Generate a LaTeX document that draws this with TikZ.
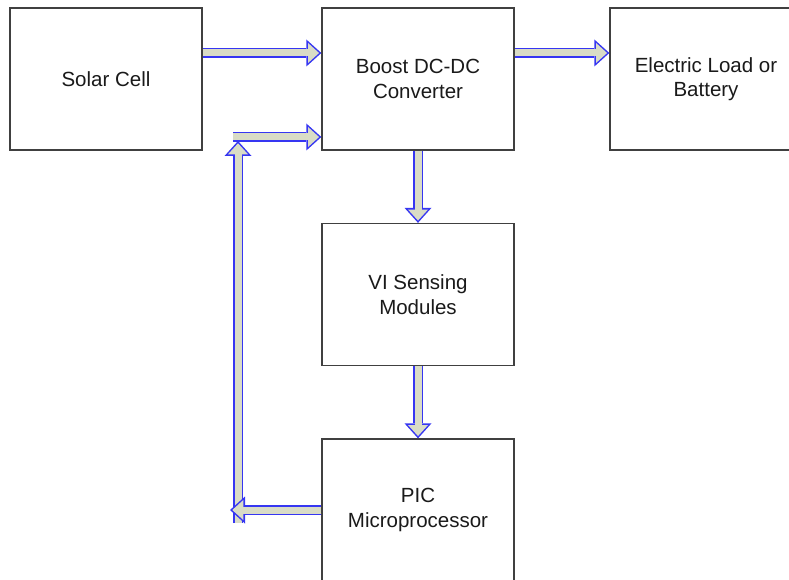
\documentclass[tikz,border=0pt]{standalone}
\usepackage{fontspec}
\setmainfont{Liberation Sans}
\usetikzlibrary{arrows.meta}
\definecolor{ink}{HTML}{1A1A1A}
\definecolor{frame}{HTML}{404040}
\definecolor{flowLine}{HTML}{3636F2}
\definecolor{flowFill}{HTML}{D9DCC6}

\begin{document}
\begin{tikzpicture}[
    x=1pt, y=-1pt,
    font=\fontsize{20.5}{24.5}\selectfont,
    block/.style={
        draw=frame,
        line width=1.3pt,
        fill=white,
        minimum width=192pt,
        minimum height=142pt,
        inner sep=0pt,
        align=center,
        text=ink
    },
    flow/.style={
        draw=flowLine,
        line width=10pt,
        -{Triangle[width=27pt, length=15pt, line width=0pt]},
        postaction={draw=flowFill, line width=7pt, shorten >=2.3pt,
            -{Triangle[width=20pt, length=11pt, line width=0pt]}}
    }
]

% Page frame.
\clip (0,0) rectangle (789,580);

% Blocks.
\node[block] (solar) at (106,79) {Solar Cell};
\node[block] (boost) at (418,79) {Boost DC-DC\\Converter};
\node[block] (load) at (706,79) {Electric Load or\\Battery};
\node[block] (vi) at (418,294.5) {VI Sensing\\Modules};
\node[block] (pic) at (418,510) {PIC\\Microprocessor};

% Power path.
\draw[flow] ([yshift=26pt]solar.east) -- ([yshift=26pt]boost.west);
\draw[flow] ([yshift=26pt]boost.east) -- ([yshift=26pt]load.west);

% Sensing path.
\draw[flow] (boost.south) -- (vi.north);
\draw[flow] (vi.south) -- (pic.north);

% Feedback to the converter.
\coordinate (fbLeft) at (230,510);
\coordinate (fbBottom) at (238,523);
\coordinate (fbTop) at (238,141);
\coordinate (fbCorner) at (233,137);
\draw[flow] (fbCorner) -- (fbCorner -| boost.west);
\draw[flow] (fbBottom) -- (fbTop);
\draw[flow] (pic.west) -- (fbLeft);

\end{tikzpicture}
\end{document}
